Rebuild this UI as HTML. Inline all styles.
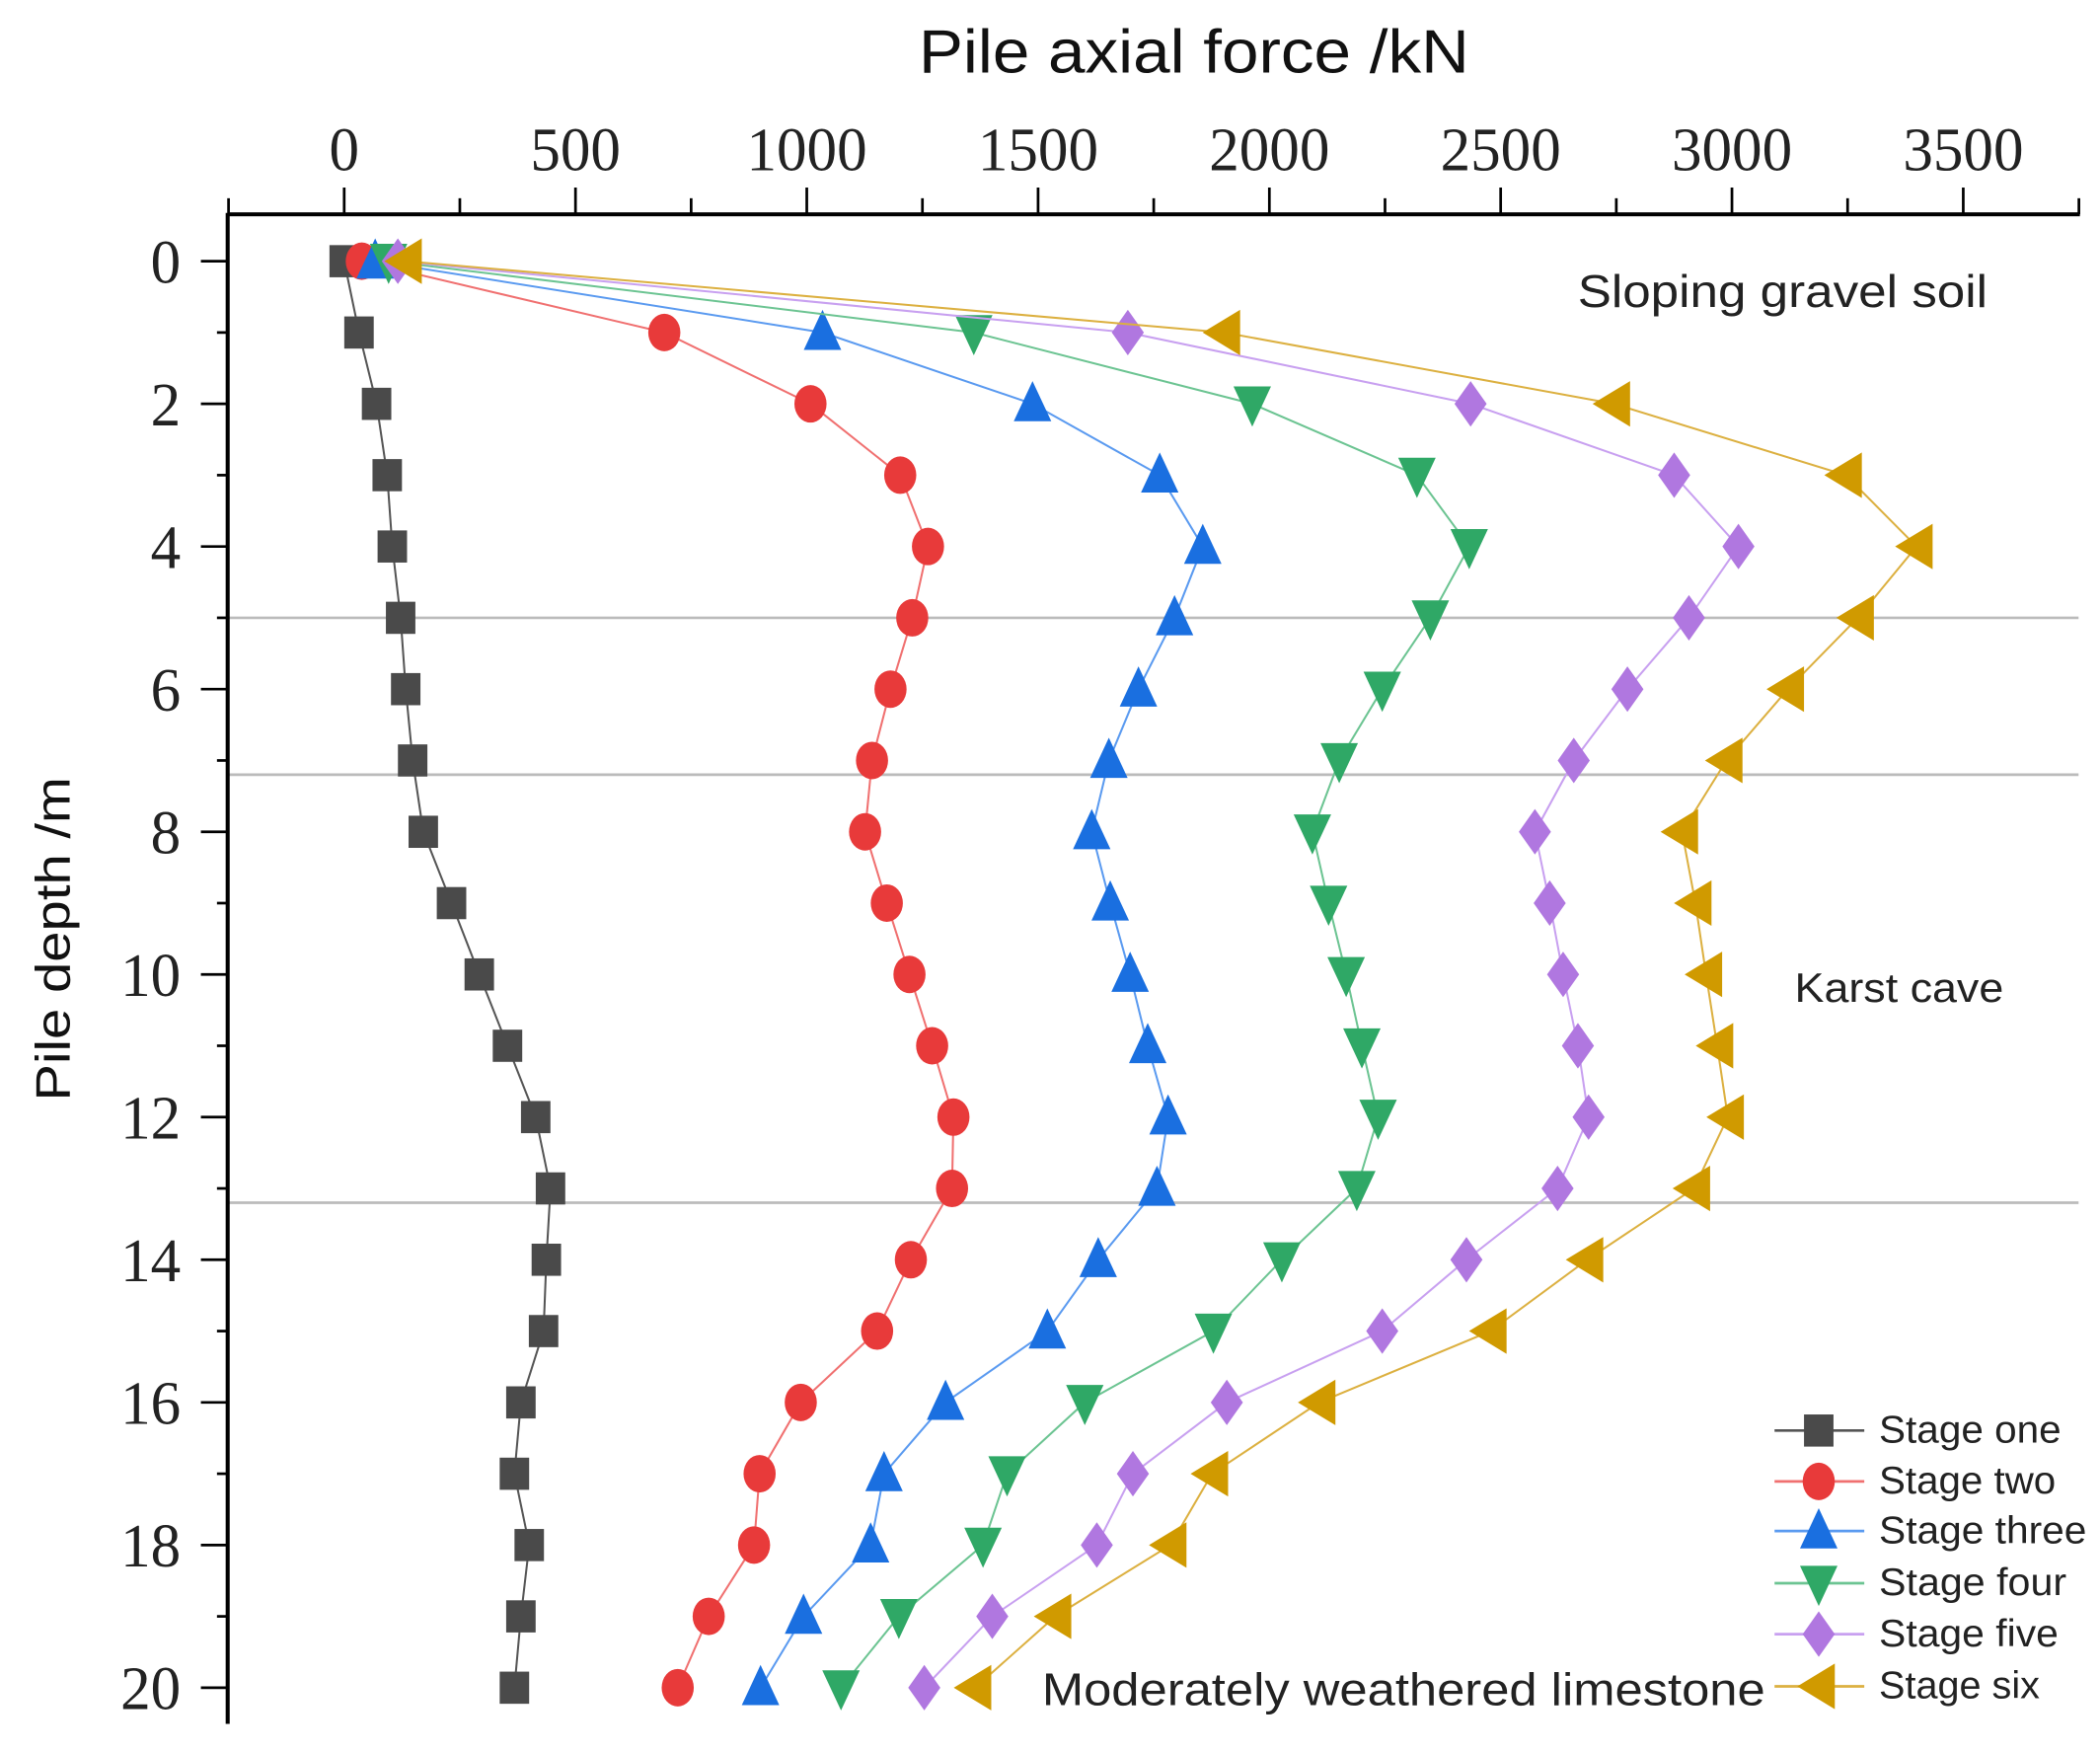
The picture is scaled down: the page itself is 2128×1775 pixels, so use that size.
<!DOCTYPE html>
<html><head><meta charset="utf-8"><style>html,body{margin:0;padding:0;background:#fff}svg{display:block}</style></head>
<body>
<svg id="chart" width="2128" height="1775" viewBox="0 0 1568 1308" preserveAspectRatio="none" xmlns="http://www.w3.org/2000/svg">
<rect width="1568" height="1308" fill="#fff"/>
<text x="686" y="54" textLength="411" lengthAdjust="spacingAndGlyphs" font-family="Liberation Sans, sans-serif" font-size="46" fill="#111">Pile axial force /kN</text>
<text transform="translate(52,822) rotate(-90)" textLength="242" lengthAdjust="spacingAndGlyphs" font-family="Liberation Sans, sans-serif" font-size="36" fill="#111">Pile depth /m</text>
<g id="axes"></g>
<g id="series"></g>
<text x="1178" y="229" textLength="306" lengthAdjust="spacingAndGlyphs" font-family="Liberation Sans, sans-serif" font-size="34" fill="#222">Sloping gravel soil</text>
<text x="1340" y="748" textLength="156" lengthAdjust="spacingAndGlyphs" font-family="Liberation Sans, sans-serif" font-size="31" fill="#222">Karst cave</text>
<text x="778" y="1273" textLength="540" lengthAdjust="spacingAndGlyphs" font-family="Liberation Sans, sans-serif" font-size="34" fill="#222">Moderately weathered limestone</text>
<g id="legend"></g>
</svg>
<script>
const depths=[0,1,2,3,4,5,6,7,8,9,10,11,12,13,14,15,16,17,18,19,20];
const stageOne=[0,32,70,93,104,122,133,148,171,232,292,353,414,446,437,431,382,368,400,382,368];
const stageTwo=[38,692,1008,1202,1262,1228,1181,1141,1126,1173,1222,1271,1317,1314,1225,1152,987,898,886,788,721];
const stageThree=[67,1034,1488,1763,1856,1795,1717,1653,1616,1656,1699,1737,1781,1757,1630,1520,1300,1167,1138,993,900];
const stageFour=[96,1361,1963,2319,2432,2348,2244,2151,2093,2128,2166,2200,2235,2189,2027,1879,1601,1433,1381,1199,1074];
const stageFive=[116,1694,2435,2875,3014,2907,2774,2658,2574,2606,2635,2667,2690,2623,2426,2244,1908,1705,1627,1401,1254];
const stageSix=[133,1902,2745,3246,3399,3272,3121,2988,2892,2921,2944,2968,2991,2918,2687,2478,2108,1876,1786,1537,1364];
const xTicks=[0,500,1000,1500,2000,2500,3000,3500];
const yTicks=[0,2,4,6,8,10,12,14,16,18,20];
const layerDepths=[5,7.2,13.2];
const seriesNames=["Stage one","Stage two","Stage three","Stage four","Stage five","Stage six"];

const NS="http://www.w3.org/2000/svg";
const X=v=>257+v*0.3454;
const Y=d=>195+d*53.25;
function mk(tag,attrs,parent){const e=document.createElementNS(NS,tag);for(const k in attrs)e.setAttribute(k,attrs[k]);parent.appendChild(e);return e;}
const axes=document.getElementById('axes');
layerDepths.forEach(d=>{const l=mk('line',{x1:170,x2:1552,y1:Y(d),y2:Y(d),stroke:'#bbb','stroke-width':2},axes);

});
let ax=mk('line',{x1:170,x2:1553,y1:160,y2:160,stroke:'#000','stroke-width':3},axes);


ax=mk('line',{x1:170,x2:170,y1:159,y2:1287,stroke:'#000','stroke-width':3},axes);


for(let v=-250;v<=3750;v+=250){const x=X(v);const major=v%500===0;
 mk('line',{x1:x,x2:x,y1:160,y2:major?140:148,stroke:'#000','stroke-width':2},axes);}
xTicks.forEach(v=>{const s=String(v);const w=s.length*22.5;
 const t=mk('text',{x:X(v)-w/2,y:127,textLength:w,lengthAdjust:'spacingAndGlyphs','font-family':'Liberation Serif, serif','font-size':46,fill:'#222'},axes);t.textContent=s;

});
for(let d=0;d<=20;d++){const y=Y(d);const major=d%2===0;
 mk('line',{x1:170,x2:major?150:162,y1:y,y2:y,stroke:'#000','stroke-width':2},axes);}
yTicks.forEach(d=>{const s=String(d);const w=s.length*22.5;
 const t=mk('text',{x:135-w,y:Y(d)+16,textLength:w,lengthAdjust:'spacingAndGlyphs','font-family':'Liberation Serif, serif','font-size':46,fill:'#222'},axes);t.textContent=s;

});

const colors=['#4a4a4a','#e83a3a','#1a6fe0','#2fa866','#b077e0','#d09a00'];
const lineColors=['#555','#f07070','#5a9af0','#6cc492','#c8a0f0','#dcb040'];
const shapes=['square','circle','up','down','diamond','left'];
const all=[stageOne,stageTwo,stageThree,stageFour,stageFive,stageSix];
function marker(shape,x,y,c,p){let e;
 if(shape==='square')e=mk('rect',{x:x-11,y:y-12,width:22,height:24,fill:c},p);
 else if(shape==='circle')e=mk('ellipse',{cx:x,cy:y,rx:12,ry:14,fill:c},p);
 else{let pts;
  if(shape==='up')pts=[[x,y-17],[x+14,y+13],[x-14,y+13]];
  if(shape==='down')pts=[[x-14,y-13],[x+14,y-13],[x,y+17]];
  if(shape==='diamond')pts=[[x,y-17],[x+12,y],[x,y+17],[x-12,y]];
  if(shape==='left')pts=[[x-16,y],[x+12,y-17],[x+12,y+17]];
  e=mk('polygon',{points:pts.map(p=>p.join(',')).join(' '),fill:c},p);}
 return e;}
const sg=document.getElementById('series');
all.forEach((vals,i)=>{const g=mk('g',{},sg);
 
 
 const pl=mk('polyline',{points:vals.map((v,j)=>X(v)+','+Y(depths[j])).join(' '),fill:'none',stroke:lineColors[i],'stroke-width':1.5},g);
 
 
 vals.forEach((v,j)=>{const m=marker(shapes[i],X(v),Y(depths[j]),colors[i],g);
  
  });});
const lg=document.getElementById('legend');


const ly=[1068,1106,1143,1182,1220,1259];
const lw=[136,132,155,140,134,120];
seriesNames.forEach((n,i)=>{const g=mk('g',{},lg);
 
 
 mk('line',{x1:1325,x2:1392,y1:ly[i],y2:ly[i],stroke:lineColors[i],'stroke-width':2},g);
 marker(shapes[i],1358,ly[i],colors[i],g);
 const t=mk('text',{x:1403,y:ly[i]+9,textLength:lw[i],lengthAdjust:'spacingAndGlyphs','font-family':'Liberation Sans, sans-serif','font-size':29,fill:'#222'},g);t.textContent=n;});
</script>
</body></html>
